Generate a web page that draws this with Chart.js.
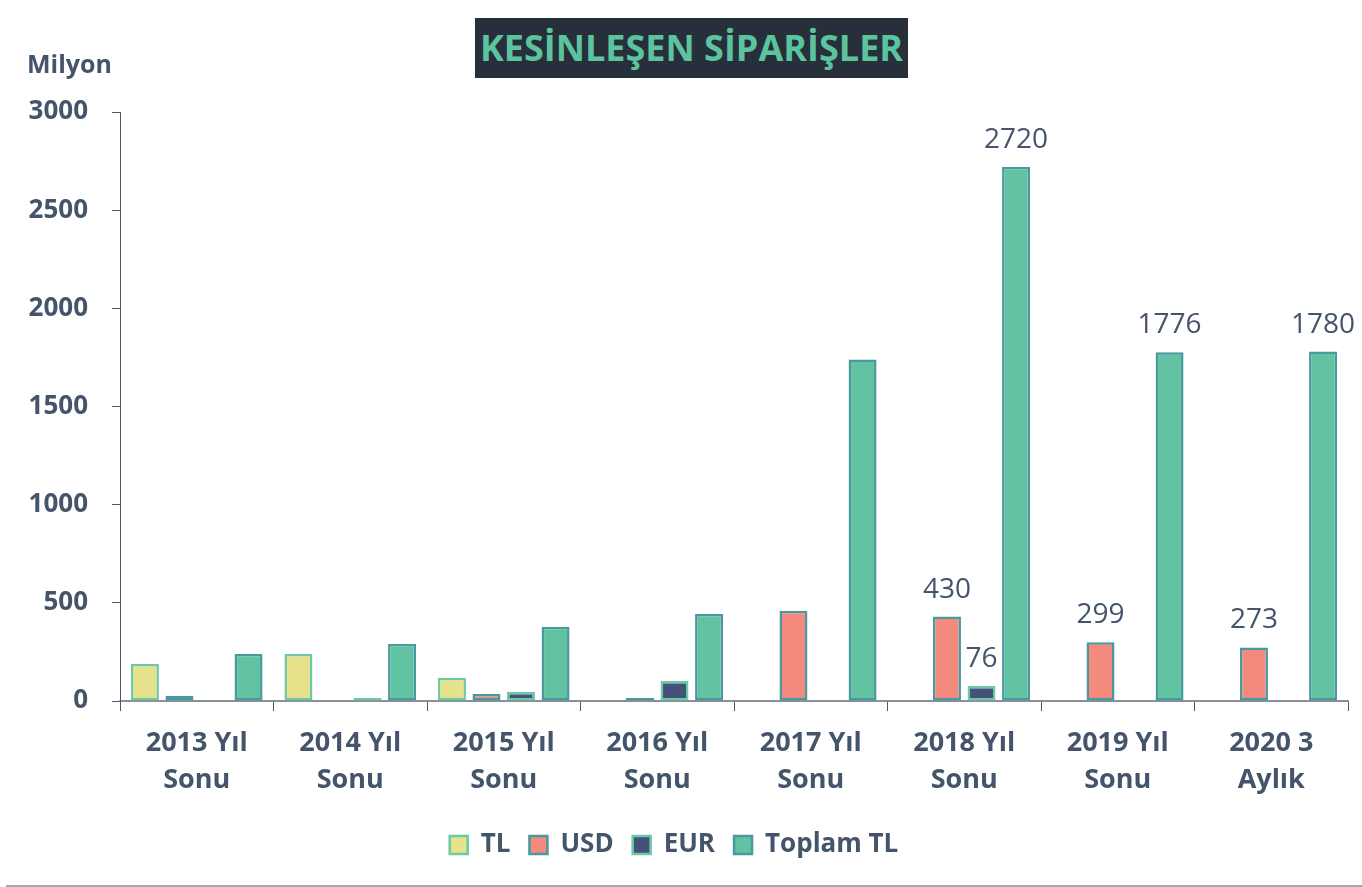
<!DOCTYPE html>
<html>
<head>
<meta charset="utf-8">
<script src="https://cdn.jsdelivr.net/npm/chart.js@4"></script>
<style>
  body { margin: 0; background: #fff; }
  #wrap { position: relative; width: 1362px; height: 887px; overflow: hidden; }
  #baslik {
    position: absolute; left: 475px; top: 18px; width: 433px; height: 60px;
    background: #272f3a; color: #5cc39f; font: bold 36px "Open Sans", sans-serif;
    text-align: center; line-height: 60px; white-space: nowrap;
  }
  #birim {
    position: absolute; left: 27px; top: 46px; color: #44546a;
    font: bold 25px "Open Sans", sans-serif;
  }
  #alt {
    position: absolute; left: 6px; right: 0; top: 885px; height: 2px; background: #a9a9a9;
  }
</style>
</head>
<body>
<div id="wrap">
  <canvas id="siparisChart" width="1362" height="887"></canvas>
  <div id="baslik">KESİNLEŞEN SİPARİŞLER</div>
  <div id="birim">Milyon</div>
  <div id="alt"></div>
</div>
<script>
// Kategoriler ve seriler
const donemler = [
    ['2013 Yıl', 'Sonu'], ['2014 Yıl', 'Sonu'], ['2015 Yıl', 'Sonu'], ['2016 Yıl', 'Sonu'],
    ['2017 Yıl', 'Sonu'], ['2018 Yıl', 'Sonu'], ['2019 Yıl', 'Sonu'], ['2020 3', 'Aylık']
];
const tlDegerleri = [189, 240, 118, 0, 0, 0, 0, 0];
const usdDegerleri = [25, 3, 36, 15, 460, 430, 299, 273];
const eurDegerleri = [0, 15, 46, 102, 2, 76, 0, 0];
const toplamDegerleri = [240, 291, 378, 443, 1740, 2720, 1776, 1780];
const yTikleri = [0, 500, 1000, 1500, 2000, 2500, 3000];
// etiket gösterilen dönemler (2018 ve sonrası)
const etiketliDonemler = [5, 6, 7];

const yaziRengi = '#44546a';
const yazi = '"Open Sans", sans-serif';

// Değer etiketleri
const degerEtiketleri = {
    id: 'degerEtiketleri',
    afterDatasetsDraw(chart) {
        const ctx = chart.ctx;
        ctx.save();
        ctx.font = '28px ' + yazi;
        ctx.fillStyle = yaziRengi;
        ctx.textAlign = 'center';
        ctx.textBaseline = 'bottom';
        chart.data.datasets.forEach(function(ds, i) {
            if (i === 0) return;
            const meta = chart.getDatasetMeta(i);
            etiketliDonemler.forEach(function(j) {
                const v = ds.data[j];
                if (!v) return;
                const bar = meta.data[j];
                ctx.fillText(String(v), bar.x, bar.y - 13);
            });
        });
        ctx.restore();
    }
};

const ctxSiparis = document.getElementById('siparisChart').getContext('2d');
const siparisChart = new Chart(ctxSiparis, {
    type: 'bar',
    data: {
        labels: donemler,
        datasets: [{
            label: 'TL',
            data: tlDegerleri,
            backgroundColor: '#e5e28b',
            borderColor: '#6cc9a6',
            borderWidth: 2.5
        }, {
            label: 'USD',
            data: usdDegerleri,
            backgroundColor: '#f4897e',
            borderColor: '#4a98a0',
            borderWidth: 2.5
        }, {
            label: 'EUR',
            data: eurDegerleri,
            backgroundColor: '#44527a',
            borderColor: '#6cc9a6',
            borderWidth: 2.5
        }, {
            label: 'Toplam TL',
            data: toplamDegerleri,
            backgroundColor: '#62c3a3',
            borderColor: '#4a98a0',
            borderWidth: 2.5
        }]
    },
    options: {
        responsive: false,
        animation: false,
        datasets: {
            bar: {
                categoryPercentage: 0.9,
                barPercentage: 0.81,
                borderSkipped: false
            }
        },
        layout: {
            padding: { top: 112, right: 14, bottom: 19, left: 0 }
        },
        scales: {
            x: {
                grid: {
                    display: true,
                    offset: true,
                    drawOnChartArea: false,
                    tickLength: 10,
                    color: '#4e5a6c'
                },
                border: { color: '#8a8f99', width: 2 },
                ticks: {
                    color: yaziRengi,
                    font: { family: yazi, size: 27, weight: 'bold', lineHeight: 1.37 },
                    padding: 14,
                    maxRotation: 0
                }
            },
            y: {
                min: 0,
                max: 3000,
                afterBuildTicks: function(axis) {
                    axis.ticks = yTikleri.map(function(v) { return { value: v }; });
                },
                afterFit: function(axis) { axis.width = 120; },
                grid: {
                    display: true,
                    drawOnChartArea: false,
                    tickLength: 8,
                    color: '#4e5a6c'
                },
                border: { color: '#4e5a6c', width: 1 },
                ticks: {
                    color: yaziRengi,
                    font: { family: yazi, size: 26, weight: 'bold' },
                    padding: 24,
                    callback: function(v) { return String(v); }
                }
            }
        },
        plugins: {
            legend: {
                position: 'bottom',
                labels: {
                    color: yaziRengi,
                    font: { family: yazi, size: 26, weight: 'bold' },
                    boxWidth: 18,
                    boxHeight: 18,
                    padding: 19
                }
            },
            tooltip: { enabled: false }
        }
    },
    plugins: [degerEtiketleri]
});
</script>
</body>
</html>
